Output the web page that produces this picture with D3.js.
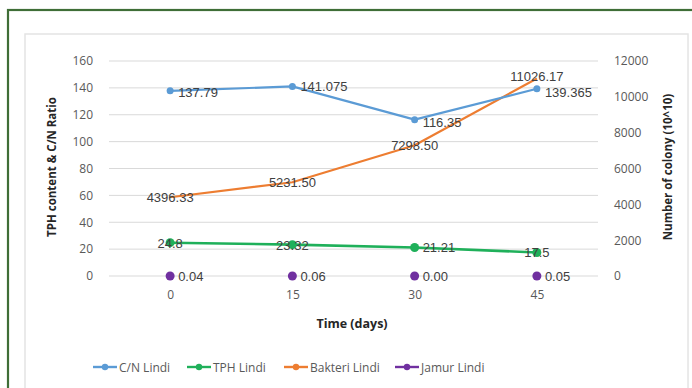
<!DOCTYPE html>
<html>
<head>
<meta charset="utf-8">
<script src="https://cdn.jsdelivr.net/npm/d3@7"></script>
<style>
  html, body { margin: 0; padding: 0; background: #fff; }
  svg { display: block; font-family: "Open Sans", "Liberation Sans", sans-serif; }
</style>
</head>
<body>
<svg id="chart" width="692" height="388"></svg>
<script>
// Sampling days
const days = [0, 15, 30, 45];

// Left-axis series (TPH content & C/N ratio)
const cnLindi = [137.79, 141.075, 116.35, 139.365];
const tphLindi = [24.8, 23.32, 21.21, 17.5];

// Right-axis series (number of colonies, 10^10)
const bakteriLindi = [4396.33, 5231.50, 7298.50, 11026.17];
const jamurLindi = [0.04, 0.06, 0.00, 0.05];

// Printed value labels
const cnLabels = ["137.79", "141.075", "116.35", "139.365"];
const tphLabels = ["24.8", "23.32", "21.21", "17.5"];
const bakteriLabels = ["4396.33", "5231.50", "7298.50", "11026.17"];
const jamurLabels = ["0.04", "0.06", "0.00", "0.05"];

// Axis ticks
const leftTicks = [0, 20, 40, 60, 80, 100, 120, 140, 160];
const rightTicks = [0, 2000, 4000, 6000, 8000, 10000, 12000];

const svg = d3.select("#chart");

// Frame and panel
svg.append("rect").attr("x", 25).attr("y", 34).attr("width", 663).attr("height", 380)
  .attr("fill", "#fff").attr("stroke", "#e4e4e4").attr("stroke-width", 1.5);
svg.append("rect").attr("x", 8).attr("y", 10).attr("width", 720).attr("height", 420)
  .attr("fill", "none").attr("stroke", "#3f6e37").attr("stroke-width", 2.2);

const plotL = 109, plotR = 598, plotT = 61, plotB = 276;

const x = d3.scalePoint().domain(days).range([plotL, plotR]).padding(0.5);
const yL = d3.scaleLinear().domain([0, 160]).range([plotB, plotT]);
const yR = d3.scaleLinear().domain([0, 12000]).range([plotB, plotT]);

// Gridlines
svg.append("g").selectAll("line").data(leftTicks).join("line")
  .attr("x1", plotL).attr("x2", plotR)
  .attr("y1", d => yL(d)).attr("y2", d => yL(d))
  .attr("stroke", "#d9d9d9").attr("stroke-width", 1);

// Left axis
const axL = svg.append("g").attr("transform", `translate(${plotL - 16},0)`)
  .call(d3.axisLeft(yL).tickValues(leftTicks).tickSize(0).tickPadding(0));
axL.select(".domain").remove();
axL.selectAll("text").attr("font-size", 12).attr("fill", "#595959")
  .attr("font-family", "'Open Sans', sans-serif");

// Right axis
const axR = svg.append("g").attr("transform", `translate(${plotR + 16},0)`)
  .call(d3.axisRight(yR).tickValues(rightTicks).tickFormat(d3.format("d")).tickSize(0).tickPadding(0));
axR.select(".domain").remove();
axR.selectAll("text").attr("font-size", 12).attr("fill", "#595959")
  .attr("font-family", "'Open Sans', sans-serif");

// Bottom axis
const axB = svg.append("g").attr("transform", `translate(0,${plotB + 14})`)
  .call(d3.axisBottom(x).tickSize(0).tickPadding(0));
axB.select(".domain").remove();
axB.selectAll("text").attr("font-size", 12).attr("fill", "#595959")
  .attr("font-family", "'Open Sans', sans-serif");

// Axis titles
svg.append("text").attr("transform", `translate(56,167) rotate(-90)`)
  .attr("text-anchor", "middle").attr("font-size", 11.5).attr("font-weight", "bold")
  .attr("fill", "#262626").text("TPH content & C/N Ratio");
svg.append("text").attr("transform", `translate(672,167) rotate(-90)`)
  .attr("text-anchor", "middle").attr("font-size", 11.5).attr("font-weight", "bold")
  .attr("fill", "#262626").text("Number of colony (10^10)");
svg.append("text").attr("x", 352).attr("y", 328)
  .attr("text-anchor", "middle").attr("font-size", 12.5).attr("font-weight", "bold")
  .attr("fill", "#262626").text("Time (days)");

// Series definitions: label placement per point ("r" right of marker, "c" centred on it)
const series = [
  { name: "C/N Lindi", values: cnLindi, labels: cnLabels, y: yL, color: "#5b9bd5",
    line: true, r: 3.5, width: 2.2, place: ["r", "r", "r", "r"], dy: [6, 5, 7, 8] },
  { name: "TPH Lindi", values: tphLindi, labels: tphLabels, y: yL, color: "#1fb05a",
    line: true, r: 4.5, width: 2.6, place: ["c", "c", "r", "c"], dy: [5, 5, 5, 5] },
  { name: "Bakteri Lindi", values: bakteriLindi, labels: bakteriLabels, y: yR, color: "#ed7d31",
    line: true, r: 0, width: 2.2, place: ["c", "c", "c", "c"], dy: [5, 5, 5, 3] },
  { name: "Jamur Lindi", values: jamurLindi, labels: jamurLabels, y: yR, color: "#7030a0",
    line: false, r: 4.5, width: 2.6, place: ["r", "r", "r", "r"], dy: [5, 5, 5, 5] }
];

const lineGen = (s) => d3.line()
  .x((d, i) => x(days[i]))
  .y(d => s.y(d));

// Draw order: Bakteri, C/N, TPH, Jamur
const order = [2, 0, 1, 3];
order.forEach(k => {
  const s = series[k];
  const g = svg.append("g");
  if (s.line) {
    g.append("path").datum(s.values).attr("d", lineGen(s))
      .attr("fill", "none").attr("stroke", s.color).attr("stroke-width", s.width)
      .attr("stroke-linejoin", "round");
  }
  if (s.r > 0) {
    g.selectAll("circle").data(s.values).join("circle")
      .attr("cx", (d, i) => x(days[i])).attr("cy", d => s.y(d))
      .attr("r", s.r).attr("fill", s.color);
  }
});

// Value labels
order.forEach(k => {
  const s = series[k];
  svg.append("g").selectAll("text").data(s.values).join("text")
    .attr("x", (d, i) => x(days[i]) + (s.place[i] === "r" ? 8 : 0))
    .attr("y", (d, i) => s.y(d) + s.dy[i])
    .attr("text-anchor", (d, i) => s.place[i] === "r" ? "start" : "middle")
    .attr("font-size", 13).attr("fill", "#404040")
    .attr("font-family", "'Liberation Sans', sans-serif")
    .text((d, i) => s.labels[i]);
});

// Legend
const legendX = [93, 187, 284, 395];
const lg = svg.append("g").attr("transform", "translate(0,367)");
series.forEach((s, i) => {
  const gi = lg.append("g").attr("transform", `translate(${legendX[i]},0)`);
  gi.append("line").attr("x1", 0).attr("x2", 24).attr("y1", 0).attr("y2", 0)
    .attr("stroke", s.color).attr("stroke-width", 2.4);
  gi.append("circle").attr("cx", 12).attr("cy", 0).attr("r", 3.2).attr("fill", s.color);
  gi.append("text").attr("x", 26).attr("y", 4.5).attr("font-size", 12)
    .attr("fill", "#595959").text(s.name);
});
</script>
</body>
</html>
